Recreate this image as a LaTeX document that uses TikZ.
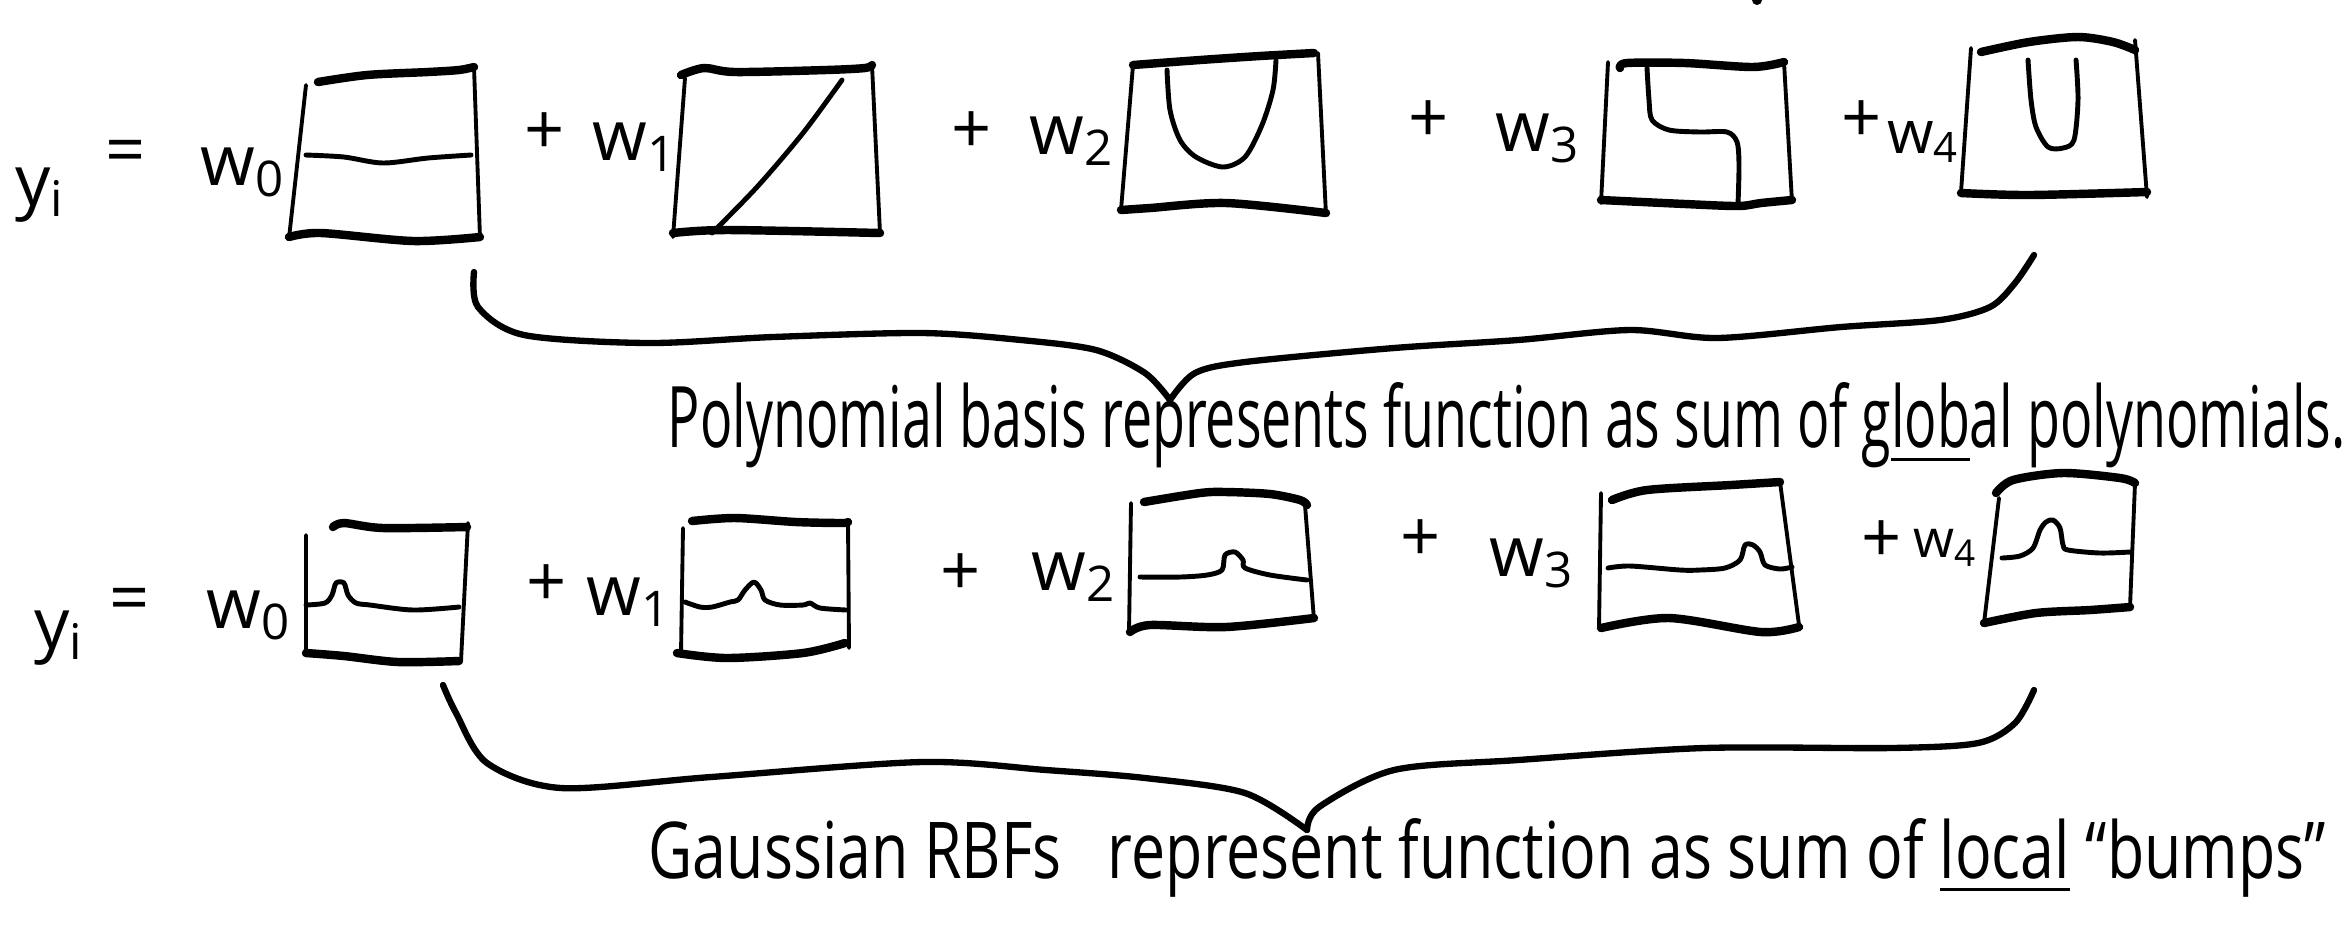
\documentclass[tikz,border=0pt]{standalone}
\usepackage{fontspec}
\setmainfont{Open Sans}
\usepackage{graphicx}

\tikzset{
  side/.style={line width=1.1pt, line cap=round},
  edge/.style={line width=2.4pt, line cap=round, line join=round},
  curve/.style={line width=1.4pt, line cap=round, line join=round},
  brace/.style={line width=1.8pt, line cap=round, line join=round},
  lbl/.style={font=\fontsize{20}{20}\selectfont, inner sep=0pt},
}

\begin{document}
\begin{tikzpicture}[x=0.1mm,y=-0.1mm]
\useasboundingbox (0,0) rectangle (2348,936);

% ===== Row 1: labels =====
\node[lbl] (yA) at (40,195) {y\textsubscript{i}};
\node[lbl] (eqA) at (126,157) {=};
\node[lbl] (wA0) at (243,172) {w\textsubscript{0}};
\node[lbl] (pA1) at (545,134) {+};
\node[lbl] (wA1) at (635,147) {w\textsubscript{1}};
\node[lbl] (pA2) at (972,133) {+};
\node[lbl] (wA2) at (1072,141) {w\textsubscript{2}};
\node[lbl] (pA3) at (1429,122) {+};
\node[lbl] (wA3) at (1538,138) {w\textsubscript{3}};
\node[lbl] (pA4) at (1862,122) {+};
\node[lbl, font=\fontsize{17}{17}\selectfont, anchor=east] (wA4) at (1960,142) {w\textsubscript{4}};

% ===== Row 1: boxes =====
% constant
\draw[side] (306,85) -- (289,238) (474,67) -- (480,238);
\draw[edge] plot[smooth] coordinates {(318,82) (367,75) (428,72) (459,70) (474,67)};
\draw[edge] plot[smooth] coordinates {(289,237) (321,233) (413,241) (480,237)};
\draw[curve] plot[smooth] coordinates {(306,155) (344,157) (383,163) (428,158) (471,155)};

% linear
\draw[side] (685,78) -- (673,237) (872,65) -- (880,233);
\draw[edge] plot[smooth] coordinates {(681,75) (704,68) (735,72) (826,70) (865,68) (872,65)};
\draw[edge] plot[smooth] coordinates {(673,233) (727,230) (880,233)};
\draw[curve] plot[smooth] coordinates {(712,233) (757,187) (803,133) (842,80)};

% quadratic
\draw[side] (1133,65) -- (1121,210) (1318,53) -- (1326,215);
\draw[edge] plot[smooth] coordinates {(1133,65) (1200,60) (1260,56) (1314,53)};
\draw[edge] plot[smooth] coordinates {(1121,210) (1150,208) (1226,203) (1326,213)};
\draw[curve] plot[smooth] coordinates {(1167,70) (1170,110) (1180,140) (1196,157) (1223,167) (1245,157) (1262,125) (1273,90) (1276,60)};

% cubic
\draw[side] (1608,62) -- (1601,203) (1784,62) -- (1792,202);
\draw[edge] plot[smooth] coordinates {(1620,68) (1627,63) (1685,63) (1753,67) (1784,62)};
\draw[edge] plot[smooth] coordinates {(1601,200) (1685,204) (1738,206) (1761,203) (1792,200)};
\draw[curve] plot[smooth, tension=0.5] coordinates {(1647,68) (1649,100) (1652,120) (1669,130) (1700,132) (1727,132) (1737,142) (1739,165) (1738,204)};

% quartic
\draw[side] (1971,48) -- (1961,192) (2135,40) -- (2147,197);
\draw[edge] plot[smooth] coordinates {(1981,52) (2029,42) (2078,37) (2113,42) (2135,50)};
\draw[edge] plot[smooth] coordinates {(1961,193) (2029,195) (2147,192)};
\draw[curve] plot[smooth] coordinates {(2028,60) (2031,100) (2036,127) (2048,147) (2063,148) (2074,140) (2078,100) (2076,60)};

% ===== Row 1: brace + note =====
\draw[brace] plot[smooth] coordinates {(474,272) (478,307) (524,335) (648,343) (773,337) (922,333) (1021,340) (1096,350) (1145,373) (1170,400)};
\draw[brace] plot[smooth] coordinates {(1170,400) (1195,373) (1245,362) (1394,348) (1518,340) (1630,330) (1717,338) (1841,327) (1940,320) (1990,307) (2015,283) (2034,255)};
\node[anchor=base west, inner sep=0pt] (noteA) at (667,447)
  {\resizebox{167.8mm}{6.5mm}{Polynomial basis represents function as sum of g\underline{lob}al polynomials.}};

% ===== Row 2: labels =====
\node[lbl] (yB) at (59,638) {y\textsubscript{i}};
\node[lbl] (eqB) at (130,605) {=};
\node[lbl] (wB0) at (249,615) {w\textsubscript{0}};
\node[lbl] (pB1) at (547,586) {+};
\node[lbl] (wB1) at (629,602) {w\textsubscript{1}};
\node[lbl] (pB2) at (961,575) {+};
\node[lbl] (wB2) at (1074,577) {w\textsubscript{2}};
\node[lbl] (pB3) at (1421,541) {+};
\node[lbl] (wB3) at (1532,563) {w\textsubscript{3}};
\node[lbl] (pB4) at (1882,542) {+};
\node[lbl, font=\fontsize{15}{15}\selectfont] (wB4) at (1945,548) {w\textsubscript{4}};

% ===== Row 2: boxes =====
% bump 0
\draw[side] (306,535) -- (306,653) (468,523) -- (461,661);
\draw[edge] plot[smooth] coordinates {(333,527) (344,523) (383,528) (467,527)};
\draw[edge] plot[smooth] coordinates {(306,653) (344,656) (398,662) (459,661)};
\draw[curve] plot[smooth, tension=0.5] coordinates {(306,605) (325,603) (332,595) (336,583) (344,583) (348,595) (356,603) (370,605) (413,610) (459,607)};

% bump 1
\draw[side] (683,528) -- (681,653) (848,522) -- (849,648);
\draw[edge] plot[smooth] coordinates {(692,521) (735,518) (796,522) (842,523) (848,522)};
\draw[edge] plot[smooth] coordinates {(677,653) (727,658) (803,653) (845,643)};
\draw[curve] plot[smooth, tension=0.5] coordinates {(685,602) (700,607) (712,607) (730,602) (738,600) (745,590) (754,582) (761,590) (765,600) (780,605) (803,605) (810,603) (820,608) (846,610)};

% bump 2
\draw[side] (1131,503) -- (1129,632) (1305,505) -- (1314,620);
\draw[edge] plot[smooth] coordinates {(1144,502) (1200,493) (1226,492) (1270,494) (1300,500) (1307,505)};
\draw[edge] plot[smooth] coordinates {(1130,632) (1150,625) (1226,627) (1314,618)};
\draw[curve] plot[smooth, tension=0.5] coordinates {(1140,577) (1180,577) (1207,575) (1222,570) (1225,555) (1235,552) (1243,560) (1245,568) (1270,575) (1307,580)};

% bump 3
\draw[side] (1601,493) -- (1599,628) (1780,482) -- (1799,625);
\draw[edge] plot[smooth] coordinates {(1612,500) (1647,490) (1731,485) (1780,482)};
\draw[edge] plot[smooth] coordinates {(1601,628) (1669,618) (1761,632) (1799,627)};
\draw[curve] plot[smooth, tension=0.5] coordinates {(1608,568) (1630,566) (1680,570) (1700,570) (1725,568) (1740,560) (1745,545) (1753,545) (1760,552) (1765,565) (1780,569) (1792,567)};

% bump 4
\draw[side] (1999,498) -- (1984,623) (2135,483) -- (2130,607);
\draw[edge] plot[smooth] coordinates {(1996,493) (2013,480) (2063,473) (2120,478) (2135,483)};
\draw[edge] plot[smooth] coordinates {(1984,623) (2036,613) (2090,610) (2130,607)};
\draw[curve] plot[smooth, tension=0.5] coordinates {(2002,558) (2020,556) (2033,548) (2040,530) (2046,522) (2053,520) (2060,528) (2063,545) (2068,550) (2100,553) (2130,552)};

% ===== Row 2: brace + note =====
\draw[brace] plot[smooth] coordinates {(443,685) (456,713) (487,763) (561,788) (711,777) (922,762) (1046,770) (1145,778) (1245,793) (1307,830)};
\draw[brace] plot[smooth] coordinates {(1307,830) (1319,807) (1394,770) (1518,760) (1704,748) (1891,748) (1978,743) (2015,723) (2034,690)};
\node[anchor=base west, inner sep=0pt] (noteB) at (648,878)
  {\resizebox{167.7mm}{6mm}{Gaussian RBFs\enspace{} represent function as sum of \underline{local} “bumps”}};

% stray mark at top edge
\fill (1757,0) circle (5);

\end{tikzpicture}
\end{document}
